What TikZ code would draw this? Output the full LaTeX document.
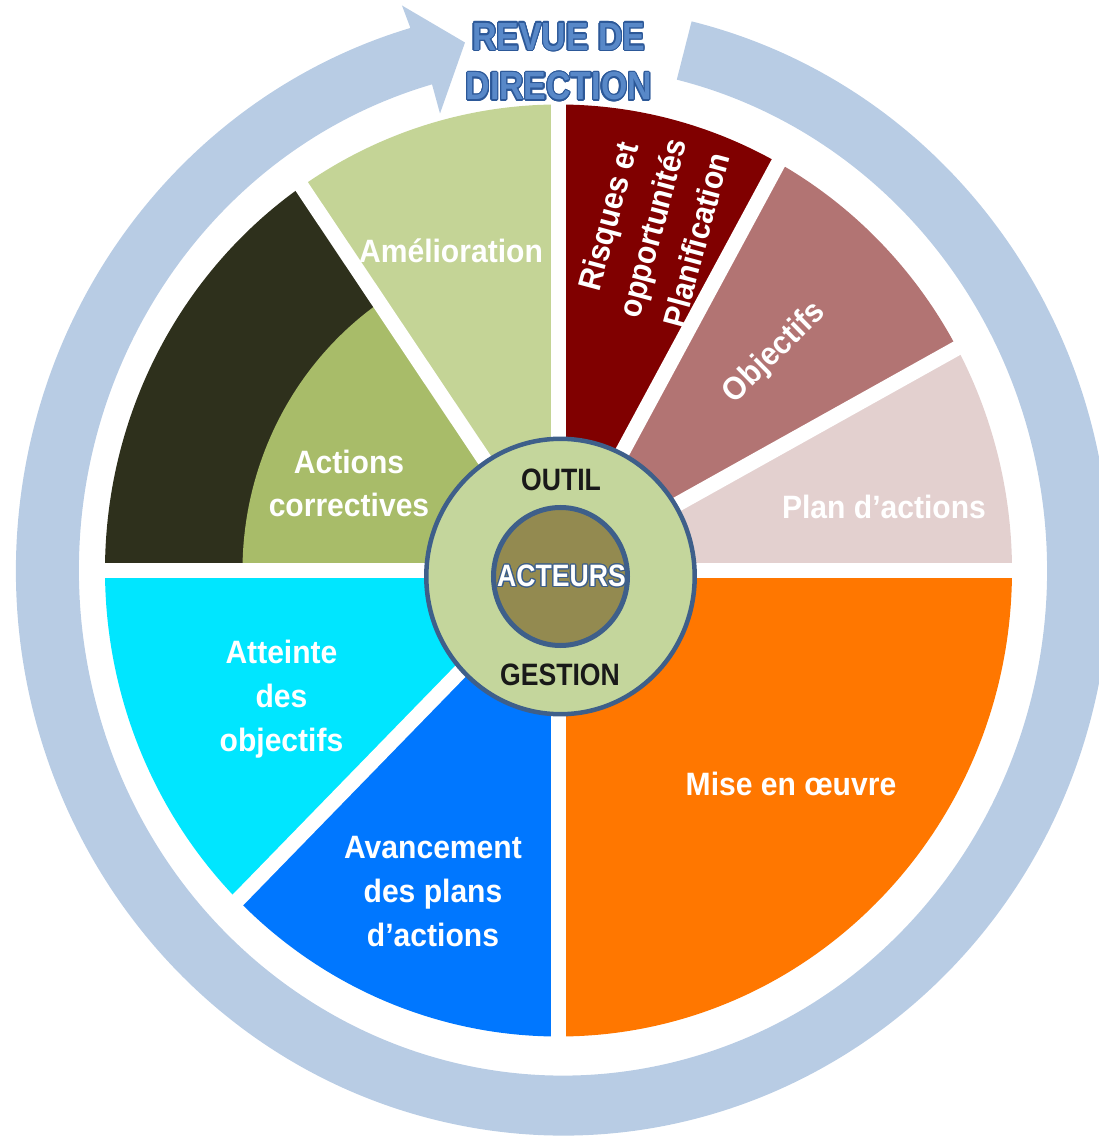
\documentclass[tikz,border=0pt]{standalone}
\usepackage{fontspec}
\setmainfont{Liberation Sans}
\newfontfamily\narrowfont[FakeStretch=0.86]{Liberation Sans}
\newfontfamily\labelfont[FakeStretch=0.93]{Liberation Sans}
\usepackage{contour}
\contourlength{0.35pt}
\definecolor{ringblue}{RGB}{184,204,228}
\definecolor{rimblue}{RGB}{62,95,138}
\definecolor{titleblue}{RGB}{88,136,200}
\definecolor{titleedge}{RGB}{44,88,152}
\definecolor{planpink}{RGB}{227,208,207}
\definecolor{objrose}{RGB}{178,116,115}
\definecolor{riskred}{RGB}{128,0,0}
\definecolor{amelgreen}{RGB}{196,212,150}
\definecolor{darkolive}{RGB}{46,48,28}
\definecolor{corrgreen}{RGB}{168,188,105}
\definecolor{cyanseg}{RGB}{0,230,255}
\definecolor{blueseg}{RGB}{0,119,255}
\definecolor{orangeseg}{RGB}{255,119,0}
\definecolor{hubgreen}{RGB}{196,214,156}
\definecolor{hubolive}{RGB}{147,138,80}
\newcommand{\sector}[4][453.5]{\fill[#2] (0,0) -- (#3:#1 and 466) arc[start angle=#3, end angle=#4, x radius=#1, y radius=466] -- cycle;}
\begin{document}
\begin{tikzpicture}[x=0.1mm, y=0.1mm,
  txt/.style={text=white, font=\labelfont\fontsize{9.2}{12.5}\selectfont\bfseries, align=center, anchor=base},
  hubtxt/.style={font=\narrowfont\fontsize{8.8}{10}\selectfont\bfseries, anchor=base},
  gap/.style={white, line width=1.5mm}]
\useasboundingbox (-558.5,-565.5) rectangle (540.5,570.5);
\begin{scope}[shift={(4.5,0)}]
  \fill[ringblue] (76.4:547 and 565) arc[start angle=76.4, end angle=-253.8, x radius=547, y radius=565]
    -- (-161,565) -- (-98,528) -- (-123,457)
    -- (-254.3:484 and 505) arc[start angle=-254.3, end angle=76.4, x radius=484, y radius=505] -- cycle;
\end{scope}
\sector{planpink}{0}{28.5}
\sector{objrose}{28.5}{61}
\sector{riskred}{61}{90}
\sector{amelgreen}{90}{124.5}
\sector{darkolive}{124.5}{180}
\fill[corrgreen] (0,0) -- (124.5:316 and 325) arc[start angle=124.5, end angle=180, x radius=316, y radius=325] -- cycle;
\sector{cyanseg}{180}{225}
\sector{blueseg}{225}{270}
\sector{orangeseg}{270}{360}
\foreach \a in {0,28.5,61,90,124.5,180,225,270}
  \draw[gap] (0,0) -- (\a:470 and 483);
\draw[rimblue, line width=0.45mm, fill=hubgreen] (2,-6) ellipse [x radius=134.2, y radius=137.7];
\draw[rimblue, line width=0.5mm, fill=hubolive] (2,-6) ellipse [x radius=67, y radius=69];
\node[txt] (amelioration) at (-107.5,307.5) {Amélioration};
\node[txt] (correctives) at (-209.5,53.5) {Actions\\correctives};
\node[txt] (atteinte) at (-277,-180.5) {Atteinte\\des\\objectifs};
\node[txt] (avancement) at (-125.5,-375.5) {Avancement\\des plans\\d’actions};
\node[txt] (oeuvre) at (232.5,-224.5) {Mise en œuvre};
\node[txt] (plan) at (325.5,52.5) {Plan d’actions};
\node[txt, anchor=center, rotate=44.5] (objectifs) at (216.5,217.5) {Objectifs};
\node[txt, anchor=center, rotate=75, font=\labelfont\fontsize{9.2}{13}\selectfont\bfseries] (risques) at (93.5,342.5) {Risques et\\opportunités\\Planification};
\node[hubtxt, text=black!90] (outil) at (2.5,80.5) {OUTIL};
\node[hubtxt, text=black!90] (gestion) at (1.5,-114.5) {GESTION};
\node[hubtxt, text=white] (acteurs) at (3,-16.2) {\contour{rimblue}{ACTEURS}};
\node[font=\narrowfont\fontsize{11.2}{14.2}\selectfont\bfseries, text=titleblue, align=center, anchor=base] (titre) at (0.2,470.5) {\contour{titleedge}{REVUE DE}\\\contour{titleedge}{DIRECTION}};
\end{tikzpicture}
\end{document}
